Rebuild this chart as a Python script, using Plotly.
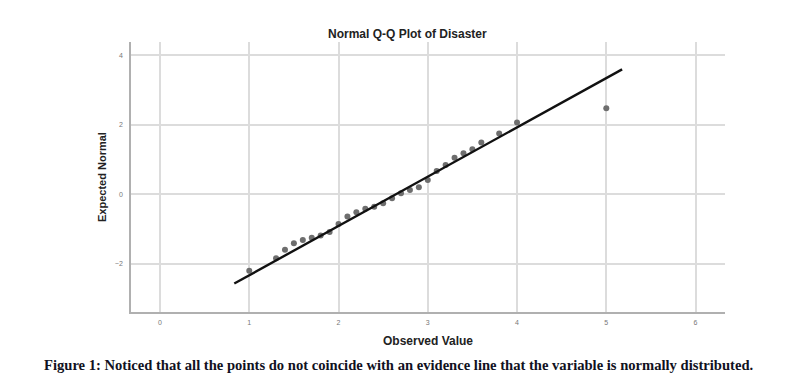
import plotly.graph_objects as go

observed = [1.0, 1.3, 1.4, 1.5, 1.6, 1.7, 1.8, 1.9, 2.0, 2.1, 2.2, 2.3, 2.4, 2.5,
            2.6, 2.7, 2.8, 2.9, 3.0, 3.1, 3.2, 3.3, 3.4, 3.5, 3.6, 3.8, 4.0, 5.0]
expected = [-2.20, -1.84, -1.60, -1.41, -1.32, -1.25, -1.19, -1.09, -0.86, -0.64,
            -0.52, -0.42, -0.36, -0.26, -0.12, 0.03, 0.12, 0.20, 0.41, 0.67,
            0.84, 1.05, 1.18, 1.29, 1.49, 1.75, 2.06, 2.47]

# Reference normal line parameters
line_mean = 2.644
line_sd = 0.705
line_x = [0.832, 5.177]
line_y = [(v - line_mean) / line_sd for v in line_x]

x_ticks = [0, 1, 2, 3, 4, 5, 6]
y_ticks = [-2, 0, 2, 4]

title_text = "Normal Q-Q Plot of Disaster"
x_title = "Observed Value"
y_title = "Expected Normal"
caption = ("Figure 1: Noticed that all the points do not coincide with an evidence line "
           "that the variable is normally distributed.")

fig = go.Figure()
fig.add_trace(go.Scatter(x=observed, y=expected, mode="markers",
                         marker=dict(size=6, color="#6e6e6e"),
                         showlegend=False, hoverinfo="skip"))
fig.add_trace(go.Scatter(x=line_x, y=line_y, mode="lines",
                         line=dict(color="#111111", width=2.4),
                         showlegend=False, hoverinfo="skip"))

# page has an 8px body margin; figure is sized to fit the window
OFF = 8
W, H = 790 - OFF, 387 - OFF
PL, PR, PT, PB = 131, 725, 42, 312  # plot area in page pixels
L, R, T, B = PL - OFF, 790 - PR, PT - OFF, 387 - PB
pw, ph = PR - PL, PB - PT

def px(xp):
    return (xp - PL) / pw

def py(yp):
    return (PB - yp) / ph

fig.update_layout(
    width=W, height=H,
    margin=dict(l=L, r=R, t=T, b=B, pad=0),
    paper_bgcolor="white", plot_bgcolor="white",
    font=dict(family="Liberation Sans, Arial, sans-serif"),
    xaxis=dict(range=[-0.325, 6.33], tickvals=x_ticks, showgrid=True,
               gridcolor="#dcdcdc", gridwidth=1.5, zeroline=False,
               showline=True, linecolor="#b0b0b0", linewidth=1.5,
               ticks="", tickfont=dict(size=7, color="#777777"),
               ticklabelstandoff=3),
    yaxis=dict(range=[-3.39, 4.38], tickvals=y_ticks, showgrid=True,
               gridcolor="#dcdcdc", gridwidth=1.5, zeroline=False,
               showline=True, linecolor="#b0b0b0", linewidth=1.5,
               ticks="", tickfont=dict(size=7, color="#777777"),
               ticklabelstandoff=5),
    annotations=[
        dict(text="<b>" + title_text + "</b>", x=px(407), y=py(34), xref="paper", yref="paper",
             showarrow=False, font=dict(size=12, color="#222222"),
             xanchor="center", yanchor="middle"),
        dict(text="<b>" + x_title + "</b>", x=px(428), y=py(341), xref="paper", yref="paper",
             showarrow=False, font=dict(size=12, color="#222222"),
             xanchor="center", yanchor="middle"),
        dict(text="<b>" + y_title + "</b>", x=px(102), y=py(177), xref="paper", yref="paper",
             showarrow=False, font=dict(size=11, color="#222222"), textangle=-90,
             xanchor="center", yanchor="middle"),
        dict(text="<b>" + caption + "</b>", x=px(398.5), y=py(365), xref="paper", yref="paper",
             showarrow=False, font=dict(size=14.6, color="#111122",
                                        family="Liberation Serif, Times New Roman, serif"),
             xanchor="center", yanchor="middle"),
    ],
)

fig.write_html("out.html")
